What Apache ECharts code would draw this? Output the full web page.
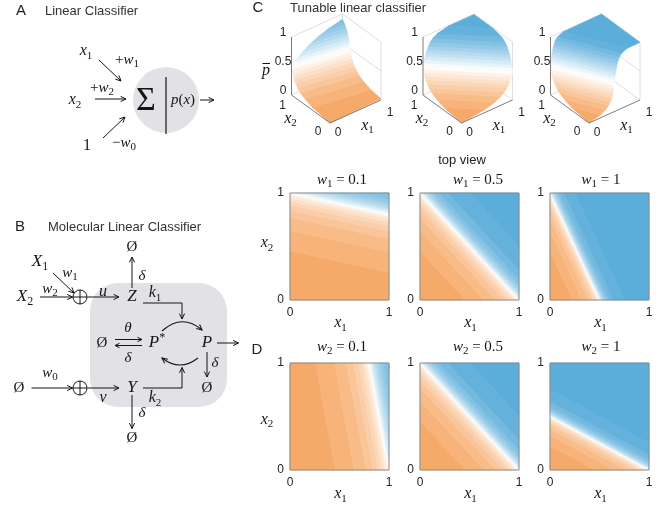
<!DOCTYPE html>
<html>
<head>
<meta charset="utf-8">
<script src="https://cdn.jsdelivr.net/npm/echarts@6/dist/echarts.min.js"></script>
<style>
html, body { margin: 0; padding: 0; background: #fff; }
#main { width: 672px; height: 505px; }
</style>
</head>
<body>
<div id="main"></div>
<script>
// weights of the classifier in each panel
var w0 = 0.5;
var topW1 = [0.1, 0.5, 1];      // C: 3D surfaces and top views, w2 fixed
var topW2 = 0.5;
var dW1 = 0.5;                  // D: w1 fixed
var dW2 = [0.1, 0.5, 1];
var topTitles = ['0.1', '0.5', '1'];
var dTitles = ['0.1', '0.5', '1'];

// classifier output p̄ against the score s = w1*x1 + w2*x2 - w0,
// read off the contour bands of the pictures
var scoreLevels = [-0.5, -0.27, -0.175, -0.115, -0.08, -0.055, -0.037, -0.023, -0.012, -0.004, 0,
                   0.006, 0.013, 0.021, 0.03, 0.04, 0.053, 0.07, 0.095, 0.14, 0.25, 1.0];
var pLevels = [0, 0.05, 0.1, 0.15, 0.2, 0.25, 0.3, 0.35, 0.4, 0.45, 0.5,
               0.55, 0.6, 0.65, 0.7, 0.75, 0.8, 0.85, 0.9, 0.95, 0.99, 1];

var tickLabels = ['0', '1'];
var zTickValues = [0, 0.5, 1];
var zTickLabels = ['0', '0.5', '1'];

var ORANGE = '#f5a662', BLUE = '#5aadda', PANE = '#e2e2e6', INK = '#151515';
var SANS = '"Liberation Sans", Arial, Helvetica, sans-serif';
var SERIF = '"Liberation Serif", "Times New Roman", serif';

// one band per pair of neighbouring levels
var bands = [];
for (var i = 0; i < scoreLevels.length - 1; i++) {
    bands.push([scoreLevels[i], scoreLevels[i + 1], pLevels[i], pLevels[i + 1], (pLevels[i] + pLevels[i + 1]) / 2]);
}

// layout
var HEAT_W = 99, HEAT_H = 107;
var heatLefts = [290, 420, 550];
var heatTops = [193, 363];
var anchors3d = [[330, 123], [461.5, 123], [589, 123]];   // front corner (x1=0, x2=0, z=0)
var VIEW = { x1: [51, 23], x2: [-38.5, 28], z: 58 };       // px per unit: right, up

function project(a, b, z) {
    return [VIEW.x1[0] * a + VIEW.x2[0] * b, VIEW.x1[1] * a + VIEW.x2[1] * b + VIEW.z * z];
}

function clipHalf(poly, f) {
    var out = [];
    for (var i = 0; i < poly.length; i++) {
        var a = poly[i], b = poly[(i + 1) % poly.length];
        var fa = f(a), fb = f(b);
        if (fa >= 0) out.push(a);
        if ((fa >= 0) !== (fb >= 0)) {
            var t = fa / (fa - fb);
            out.push([a[0] + t * (b[0] - a[0]), a[1] + t * (b[1] - a[1])]);
        }
    }
    return out;
}

function clipBand(w1, w2, lo, hi) {
    var poly = [[0, 0], [1, 0], [1, 1], [0, 1]];
    poly = clipHalf(poly, function (q) { return w1 * q[0] + w2 * q[1] - w0 - lo; });
    poly = clipHalf(poly, function (q) { return hi - (w1 * q[0] + w2 * q[1] - w0); });
    return poly;
}

function bandBounds(i, api) {
    return [i === 0 ? -9 : api.value(0), i === bands.length - 1 ? 9 : api.value(1)];
}

function heatRender(w1, w2) {
    return function (params, api) {
        var bb = bandBounds(params.dataIndex, api);
        var poly = clipBand(w1, w2, bb[0], bb[1]);
        if (poly.length < 3) return null;
        var c = api.visual('color');
        return {
            type: 'polygon',
            shape: { points: poly.map(function (q) { return api.coord(q); }) },
            style: { fill: c, stroke: c, lineWidth: 0.6 }
        };
    };
}

function surfRender(w1, w2) {
    return function (params, api) {
        var bb = bandBounds(params.dataIndex, api);
        var sLo = api.value(0), sHi = api.value(1), pLo = api.value(2), pHi = api.value(3);
        var poly = clipBand(w1, w2, bb[0], bb[1]);
        if (poly.length < 3) return null;
        var c = api.visual('color');
        var pts = poly.map(function (q) {
            var s = w1 * q[0] + w2 * q[1] - w0;
            var t = Math.max(0, Math.min(1, (s - sLo) / (sHi - sLo)));
            return api.coord(project(q[0], q[1], pLo + t * (pHi - pLo)));
        });
        return { type: 'polygon', shape: { points: pts }, style: { fill: c, stroke: c, lineWidth: 0.6 } };
    };
}

// box of the 3D axes: [x1, x2, z, x1, x2, z]
var backEdges = [
    [0, 1, 1, 1, 1, 1], [1, 1, 1, 1, 0, 1],
    [1, 1, 0, 1, 1, 1], [1, 0, 0, 1, 0, 1],
    [0, 1, 0.5, 1, 1, 0.5], [1, 1, 0.5, 1, 0, 0.5],
    [0, 1, 0, 1, 1, 0], [1, 1, 0, 1, 0, 0]
];
var axisEdges = [[0, 1, 0, 0, 1, 1], [0, 0, 0, 0, 1, 0], [0, 0, 0, 1, 0, 0]];

function edgeRender(color, width) {
    return function (params, api) {
        var a = api.coord(project(api.value(0), api.value(1), api.value(2)));
        var b = api.coord(project(api.value(3), api.value(4), api.value(5)));
        return { type: 'line', shape: { x1: a[0], y1: a[1], x2: b[0], y2: b[1] }, style: { stroke: color, lineWidth: width } };
    };
}

// ---------- text helpers ----------
var measureCtx = document.createElement('canvas').getContext('2d');
function textWidth(str, font) {
    measureCtx.font = font;
    return measureCtx.measureText(str).width;
}

// parts: [text, kind] with kind 'i' italic, 'r' upright, 'sub', 'sup'
function mathText(cx, cy, parts, size, align) {
    var pieces = parts.map(function (p) {
        var kind = p[1] || 'r';
        var fs = (kind === 'sub' || kind === 'sup') ? Math.round(size * 0.7) : size;
        var style = kind === 'i' ? 'italic' : 'normal';
        return { text: p[0], fs: fs, style: style, kind: kind, w: textWidth(p[0], style + ' ' + fs + 'px ' + SERIF) };
    });
    var total = 0;
    pieces.forEach(function (p) { total += p.w; });
    var x = align === 'left' ? cx : (align === 'right' ? cx - total : cx - total / 2);
    var children = [];
    pieces.forEach(function (p) {
        var dy = p.kind === 'sub' ? size * 0.3 : (p.kind === 'sup' ? -size * 0.32 : 0);
        children.push({
            type: 'text', x: x, y: cy + dy, silent: true,
            style: { text: p.text, fill: INK, fontFamily: SERIF, fontSize: p.fs, fontStyle: p.style,
                     textAlign: 'left', textVerticalAlign: 'middle' }
        });
        x += p.w;
    });
    return { type: 'group', children: children };
}

function sans(str, x, y, size, align, color) {
    return {
        type: 'text', x: x, y: y, silent: true,
        style: { text: str, fill: color || '#262626', fontFamily: SANS, fontSize: size,
                 textAlign: align || 'center', textVerticalAlign: 'middle' }
    };
}

function headPts(tip, ang, len) {
    return [[tip[0] - len * Math.cos(ang - 0.45), tip[1] - len * Math.sin(ang - 0.45)], tip,
            [tip[0] - len * Math.cos(ang + 0.45), tip[1] - len * Math.sin(ang + 0.45)]];
}

function arrow(pts, len) {
    var n = pts.length, a = pts[n - 2], b = pts[n - 1];
    var ang = Math.atan2(b[1] - a[1], b[0] - a[0]);
    return {
        type: 'group', children: [
            { type: 'polyline', shape: { points: pts }, style: { stroke: INK, lineWidth: 1, fill: 'none' } },
            { type: 'polyline', shape: { points: headPts(b, ang, len || 6) }, style: { stroke: INK, lineWidth: 1, fill: 'none' } }
        ]
    };
}

function curvedArrow(x1, y1, cx, cy, x2, y2) {
    var ang = Math.atan2(y2 - cy, x2 - cx);
    return {
        type: 'group', children: [
            { type: 'bezierCurve', shape: { x1: x1, y1: y1, cpx1: cx, cpy1: cy, x2: x2, y2: y2 }, style: { stroke: INK, lineWidth: 1.1, fill: 'none' } },
            { type: 'polyline', shape: { points: headPts([x2, y2], ang, 6) }, style: { stroke: INK, lineWidth: 1.1, fill: 'none' } }
        ]
    };
}

function oplus(cx, cy) {
    var r = 7;
    return {
        type: 'group', children: [
            { type: 'circle', shape: { cx: cx, cy: cy, r: r }, style: { stroke: INK, lineWidth: 1, fill: 'none' } },
            { type: 'line', shape: { x1: cx - r, y1: cy, x2: cx + r, y2: cy }, style: { stroke: INK, lineWidth: 1 } },
            { type: 'line', shape: { x1: cx, y1: cy - r, x2: cx, y2: cy + r }, style: { stroke: INK, lineWidth: 1 } }
        ]
    };
}

function segment(x1, y1, x2, y2, w, color) {
    return { type: 'line', shape: { x1: x1, y1: y1, x2: x2, y2: y2 }, style: { stroke: color || INK, lineWidth: w || 1 } };
}

var EMPTY = '\u00d8';
var g = [];

// ---------- A: linear classifier ----------
g.push(sans('A', 21, 11, 15, 'center', '#222'));
g.push(sans('Linear Classifier', 45, 11, 13, 'left', '#333'));
g.push({ type: 'circle', shape: { cx: 166, cy: 100, r: 33 }, style: { fill: PANE } });
g.push(segment(166, 77, 166, 134, 1.2));
g.push(mathText(146, 101, [['\u03a3', 'r']], 34));
g.push(mathText(183, 100, [['p', 'i'], ['(', 'r'], ['x', 'i'], [')', 'r']], 15));
g.push(arrow([[200, 100], [214, 100]]));
g.push(mathText(86, 51, [['x', 'i'], ['1', 'sub']], 16));
g.push(mathText(127, 60, [['+', 'r'], ['w', 'i'], ['1', 'sub']], 15));
g.push(arrow([[99, 60], [121, 81]]));
g.push(mathText(102, 88, [['+', 'r'], ['w', 'i'], ['2', 'sub']], 15));
g.push(mathText(75, 100, [['x', 'i'], ['2', 'sub']], 16));
g.push(arrow([[95, 99], [126, 99]]));
g.push(mathText(87, 146, [['1', 'r']], 16));
g.push(mathText(124, 143, [['\u2212', 'r'], ['w', 'i'], ['0', 'sub']], 15));
g.push(arrow([[103, 138], [125, 117]]));

// ---------- B: molecular linear classifier ----------
g.push(sans('B', 20, 227, 15, 'center', '#222'));
g.push(sans('Molecular Linear Classifier', 48, 227, 13, 'left', '#333'));
g.push({ type: 'rect', shape: { x: 90, y: 283, width: 137, height: 124, r: 28 }, style: { fill: PANE } });
g.push(mathText(40, 262, [['X', 'i'], ['1', 'sub']], 17));
g.push(mathText(70, 273, [['w', 'i'], ['1', 'sub']], 15));
g.push(arrow([[53, 273], [74, 293]]));
g.push(mathText(25, 297, [['X', 'i'], ['2', 'sub']], 17));
g.push(mathText(50, 289, [['w', 'i'], ['2', 'sub']], 15));
g.push(arrow([[40, 297], [72.5, 297]]));
g.push(oplus(80, 297));
g.push(arrow([[87.5, 297], [119, 297]]));
g.push(mathText(103, 292, [['u', 'i']], 16));
g.push(mathText(132, 297, [['Z', 'i']], 17));
g.push(arrow([[132, 288], [132, 257]]));
g.push(mathText(132, 247, [[EMPTY, 'r']], 15));
g.push(mathText(142, 276, [['\u03b4', 'i']], 15));
g.push(mathText(155, 293, [['k', 'i'], ['1', 'sub']], 16));
g.push(arrow([[143, 303], [182, 303], [182, 319]]));
g.push(curvedArrow(162, 331, 182, 313, 202, 330));
g.push(mathText(102, 343, [[EMPTY, 'r']], 15));
g.push(mathText(128, 328, [['\u03b8', 'i']], 15));
g.push(arrow([[115, 339.5], [142, 339.5]], 5));
g.push(arrow([[142, 345.5], [115, 345.5]], 5));
g.push(mathText(128, 358, [['\u03b4', 'i']], 15));
g.push(mathText(157, 343, [['P', 'i'], ['*', 'sup']], 17));
g.push(mathText(207, 343, [['P', 'i']], 17));
g.push(arrow([[217, 343], [238.5, 343]]));
g.push(arrow([[207, 352], [207, 377]]));
g.push(mathText(215, 363, [['\u03b4', 'i']], 15));
g.push(mathText(207, 388, [[EMPTY, 'r']], 15));
g.push(curvedArrow(198, 358, 180, 372, 162, 358));
g.push(arrow([[143, 388], [182, 388], [182, 367.5]]));
g.push(mathText(155, 398, [['k', 'i'], ['2', 'sub']], 16));
g.push(mathText(50, 373, [['w', 'i'], ['0', 'sub']], 15));
g.push(mathText(19, 388, [[EMPTY, 'r']], 15));
g.push(arrow([[31.5, 388], [72.5, 388]]));
g.push(oplus(80, 388));
g.push(arrow([[87.5, 388], [119, 388]]));
g.push(mathText(103, 398, [['v', 'i']], 16));
g.push(mathText(132, 388, [['Y', 'i']], 17));
g.push(arrow([[132, 395], [132, 428.5]]));
g.push(mathText(142, 413, [['\u03b4', 'i']], 15));
g.push(mathText(132, 438, [[EMPTY, 'r']], 15));

// ---------- C / D headings ----------
g.push(sans('C', 258, 8, 15, 'center', '#222'));
g.push(sans('Tunable linear classifier', 290, 8, 13, 'left', '#333'));
g.push(sans('top view', 462, 160, 13, 'center', '#222'));
g.push(sans('D', 257, 350, 15, 'center', '#222'));

var titleX = [342, 478, 601];
for (var k = 0; k < 3; k++) {
    g.push(mathText(titleX[k], 180, [['w', 'i'], ['1', 'sub'], [' = ' + topTitles[k], 'r']], 15));
    g.push(mathText(titleX[k], 347, [['w', 'i'], ['2', 'sub'], [' = ' + dTitles[k], 'r']], 15));
    var cxh = heatLefts[k] + HEAT_W / 2 + 1;
    g.push(mathText(cxh, 323, [['x', 'i'], ['1', 'sub']], 16));
    g.push(mathText(cxh, 494, [['x', 'i'], ['1', 'sub']], 16));
}
g.push(mathText(267, 243, [['x', 'i'], ['2', 'sub']], 16));
g.push(mathText(267, 419.5, [['x', 'i'], ['2', 'sub']], 16));

// 3D axis labels
anchors3d.forEach(function (F, k) {
    zTickValues.forEach(function (z, j) {
        g.push(sans(zTickLabels[j], F[0] - 47, F[1] - VIEW.x2[1] - VIEW.z * z - 4, 12, 'center'));
    });
    g.push(sans(tickLabels[1], F[0] - 47.3, F[1] - 17, 12));
    g.push(sans(tickLabels[0], F[0] - 12, F[1] + 8.7, 12));
    g.push(sans(tickLabels[0], F[0] + 8, F[1] + 10, 12));
    g.push(sans(tickLabels[1], F[0] + 60, F[1] - 10, 12));
    g.push(mathText(F[0] - 39.5, F[1] - 4.5, [['x', 'i'], ['2', 'sub']], 16));
    g.push(mathText(F[0] + 37.5, F[1] + 2.5, [['x', 'i'], ['1', 'sub']], 16));
});
g.push(mathText(266, 71, [['p', 'i']], 16));
g.push(segment(262.5, 63.5, 270, 63.5, 1));

// ---------- grids, axes, series ----------
var grids = [], xAxes = [], yAxes = [], series = [];
var bandSeries = [];

for (var r = 0; r < 2; r++) {
    for (var k = 0; k < 3; k++) {
        var gi = grids.length;
        grids.push({ left: heatLefts[k], top: heatTops[r], width: HEAT_W, height: HEAT_H,
                     show: true, borderColor: '#8a8a8a', borderWidth: 1, backgroundColor: 'transparent', z: 10 });
        var lab = { fontSize: 12, color: '#262626', fontFamily: SANS };
        xAxes.push({ type: 'value', gridIndex: gi, min: 0, max: 1, interval: 1,
                     axisLine: { show: false }, axisTick: { show: false }, splitLine: { show: false },
                     axisLabel: Object.assign({ margin: 7 }, lab) });
        yAxes.push({ type: 'value', gridIndex: gi, min: 0, max: 1, interval: 1,
                     axisLine: { show: false }, axisTick: { show: false }, splitLine: { show: false },
                     axisLabel: Object.assign({ margin: 6 }, lab) });
        var w1 = r === 0 ? topW1[k] : dW1;
        var w2 = r === 0 ? topW2 : dW2[k];
        bandSeries.push(series.length);
        series.push({ type: 'custom', coordinateSystem: 'cartesian2d', xAxisIndex: gi, yAxisIndex: gi,
                      data: bands, renderItem: heatRender(w1, w2), silent: true, z: 2 });
    }
}

anchors3d.forEach(function (F, k) {
    var gi = grids.length;
    var left = F[0] + VIEW.x2[0], right = F[0] + VIEW.x1[0];
    var h = VIEW.x1[1] + VIEW.x2[1] + VIEW.z;
    grids.push({ left: left, top: F[1] - h, width: right - left, height: h });
    xAxes.push({ type: 'value', gridIndex: gi, min: VIEW.x2[0], max: VIEW.x1[0], show: false });
    yAxes.push({ type: 'value', gridIndex: gi, min: 0, max: h, show: false });
    series.push({ type: 'custom', coordinateSystem: 'cartesian2d', xAxisIndex: gi, yAxisIndex: gi,
                  data: backEdges, renderItem: edgeRender('#d6d6d6', 0.8), silent: true, z: 1 });
    bandSeries.push(series.length);
    series.push({ type: 'custom', coordinateSystem: 'cartesian2d', xAxisIndex: gi, yAxisIndex: gi,
                  data: bands, renderItem: surfRender(topW1[k], topW2), silent: true, z: 2 });
    series.push({ type: 'custom', coordinateSystem: 'cartesian2d', xAxisIndex: gi, yAxisIndex: gi,
                  data: axisEdges, renderItem: edgeRender('#6e6e6e', 0.9), silent: true, z: 3 });
});

var myChart = echarts.init(document.getElementById('main'), null, { renderer: 'canvas' });
myChart.setOption({
    animation: false,
    backgroundColor: '#ffffff',
    grid: grids,
    xAxis: xAxes,
    yAxis: yAxes,
    visualMap: {
        type: 'continuous', show: false, dimension: 4, min: 0, max: 1,
        seriesIndex: bandSeries,
        inRange: { color: [ORANGE, '#ffffff', BLUE] }
    },
    graphic: { elements: g },
    series: series
});
</script>
</body>
</html>
